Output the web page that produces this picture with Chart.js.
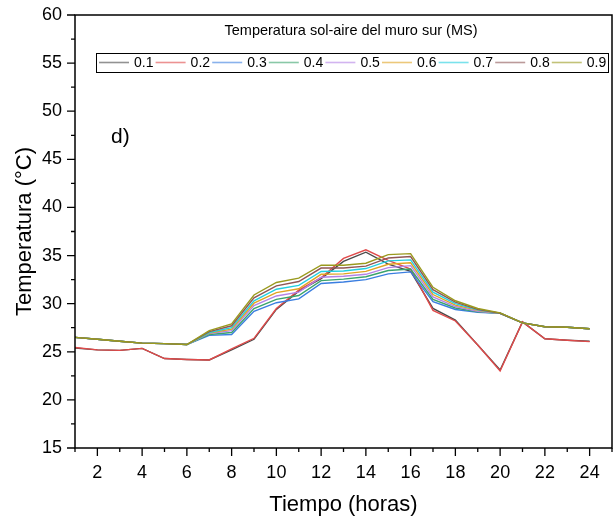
<!DOCTYPE html>
<html>
<head>
<meta charset="utf-8">
<script src="https://cdn.jsdelivr.net/npm/chart.js@4.4.1/dist/chart.umd.min.js"></script>
<style>
  html, body { margin: 0; padding: 0; background: #fff; }
  #wrap { width: 613px; height: 519px; }
</style>
</head>
<body>
<div id="wrap"><canvas id="myChart" width="613" height="519"></canvas></div>
<script>
// hours of the day
var hours = [1,2,3,4,5,6,7,8,9,10,11,12,13,14,15,16,17,18,19,20,21,22,23,24];
var seriesNames = ['0.1','0.2','0.3','0.4','0.5','0.6','0.7','0.8','0.9'];
var seriesColors = ['#4a4a4a','#e04a4a','#3a7ee0','#3aa46c','#b482e6','#e0a422','#22cfe0','#8e5656','#9a9a1e'];

// temperatura sol-aire (°C)
var s01 = [25.4,25.2,25.15,25.35,24.3,24.2,24.15,25.2,26.3,29.4,31.3,32.6,34.4,35.35,34.1,33.35,29.5,28.3,25.7,23.1,28.1,26.35,26.2,26.1];
var s02 = [25.45,25.2,25.15,25.35,24.3,24.2,24.15,25.3,26.4,29.5,31.4,32.7,34.7,35.6,34.5,33.6,29.3,28.2,25.7,23.0,28.1,26.35,26.2,26.05];
var s03 = [26.5,26.3,26.1,25.9,25.85,25.75,26.7,26.8,29.2,30.1,30.5,32.1,32.25,32.5,33.1,33.3,30.2,29.4,29.1,29.0,28.0,27.6,27.55,27.4];
var s04 = [26.5,26.3,26.1,25.9,25.85,25.75,26.8,27.0,29.5,30.45,30.85,32.4,32.55,32.8,33.45,33.6,30.45,29.55,29.15,29.0,28.0,27.6,27.55,27.4];
var s05 = [26.5,26.3,26.1,25.9,25.85,25.75,26.9,27.2,29.8,30.8,31.2,32.75,32.85,33.05,33.75,33.95,30.7,29.7,29.2,29.0,28.0,27.6,27.55,27.4];
var s06 = [26.5,26.3,26.1,25.9,25.85,25.75,26.95,27.35,30.05,31.15,31.55,33.05,33.1,33.35,34.1,34.25,30.95,29.85,29.3,29.0,28.0,27.6,27.55,27.4];
var s07 = [26.5,26.3,26.1,25.9,25.85,25.75,27.0,27.5,30.3,31.5,31.9,33.35,33.4,33.65,34.45,34.55,31.2,30.0,29.35,29.0,28.0,27.6,27.55,27.4];
var s08 = [26.5,26.3,26.1,25.9,25.85,25.75,27.1,27.7,30.6,31.85,32.3,33.7,33.7,33.9,34.75,34.9,31.45,30.15,29.4,29.0,28.0,27.6,27.55,27.4];
var s09 = [26.5,26.3,26.1,25.9,25.85,25.75,27.2,27.9,30.9,32.2,32.65,34.0,34.0,34.2,35.1,35.2,31.7,30.3,29.5,29.05,28.0,27.6,27.55,27.4];
var allSeries = [s01,s02,s03,s04,s05,s06,s07,s08,s09];

var FONT = '"Liberation Sans", Arial, sans-serif';

var datasets = allSeries.map(function(vals, i) {
    return {
        label: seriesNames[i],
        data: vals.map(function(v, k) { return {x: hours[k], y: v}; }),
        borderColor: seriesColors[i],
        backgroundColor: seriesColors[i],
        borderWidth: 1.4,
        pointRadius: 0,
        tension: 0,
        order: 9 - i
    };
});

// frame, tick marks, inner legend and panel label
var decorations = {
    id: 'decorations',
    afterDraw: function(chart) {
        var c = chart.ctx, a = chart.chartArea;
        var xs = chart.scales.x, ys = chart.scales.y;
        c.save();
        c.strokeStyle = '#000';
        c.lineWidth = 1.5;
        c.strokeRect(a.left, a.top, a.right - a.left, a.bottom - a.top);

        c.lineWidth = 1.3;
        c.beginPath();
        xs.ticks.forEach(function(t) {
            var px = xs.getPixelForValue(t.value);
            var len = t.value % 2 === 0 ? 8 : 4;
            c.moveTo(px, a.bottom); c.lineTo(px, a.bottom + len);
        });
        ys.ticks.forEach(function(t) {
            var py = ys.getPixelForValue(t.value);
            var len = t.value % 5 === 0 ? 8 : 4;
            c.moveTo(a.left, py); c.lineTo(a.left - len, py);
        });
        c.stroke();

        // legend title
        c.fillStyle = '#000';
        c.font = '14.5px ' + FONT;
        c.textAlign = 'center';
        c.textBaseline = 'middle';
        c.fillText('Temperatura sol-aire del muro sur (MS)', 351, 31);

        // legend box
        c.lineWidth = 1;
        c.strokeStyle = '#000';
        c.strokeRect(96.5, 53.5, 512, 19);
        c.textAlign = 'left';
        c.font = '14px ' + FONT;
        seriesNames.forEach(function(n, i) {
            var x0 = 99 + 56.6 * i;
            c.strokeStyle = seriesColors[i];
            c.globalAlpha = 0.6;
            c.lineWidth = 1.6;
            c.beginPath();
            c.moveTo(x0, 62.5); c.lineTo(x0 + 30, 62.5);
            c.stroke();
            c.globalAlpha = 1;
            c.fillStyle = '#000';
            c.fillText(n, x0 + 35, 63);
        });

        c.font = '21px ' + FONT;
        c.fillText('d)', 111, 137);
        c.restore();
    }
};

var ctx = document.getElementById('myChart').getContext('2d');
var chart = new Chart(ctx, {
    type: 'line',
    data: { datasets: datasets },
    options: {
        responsive: false,
        animation: false,
        layout: { padding: { top: 15, right: 1, left: 0, bottom: 0 } },
        plugins: {
            legend: { display: false },
            tooltip: { enabled: false }
        },
        scales: {
            x: {
                type: 'linear',
                min: 1,
                max: 25,
                afterFit: function(s) {
                    s.height = 71;
                    s.paddingLeft = 0; s.paddingRight = 0;
                },
                grid: { display: false, drawTicks: false },
                border: { display: false },
                ticks: {
                    stepSize: 1,
                    autoSkip: false,
                    maxRotation: 0,
                    padding: 14,
                    color: '#000',
                    font: { family: FONT, size: 18 },
                    callback: function(v) { return (v % 2 === 0 && v <= 24) ? String(v) : ''; }
                },
                title: {
                    display: true,
                    text: 'Tiempo (horas)',
                    color: '#000',
                    font: { family: FONT, size: 22 },
                    padding: { top: 0, bottom: 1 }
                }
            },
            y: {
                min: 15,
                max: 60,
                afterFit: function(s) {
                    s.width = 75;
                    s.paddingTop = 0; s.paddingBottom = 0;
                },
                grid: { display: false, drawTicks: false },
                border: { display: false },
                ticks: {
                    stepSize: 2.5,
                    autoSkip: false,
                    padding: 13,
                    color: '#000',
                    font: { family: FONT, size: 18 },
                    callback: function(v) { return v % 5 === 0 ? String(v) : ''; }
                },
                title: {
                    display: true,
                    text: 'Temperatura (°C)',
                    color: '#000',
                    font: { family: FONT, size: 22 },
                    padding: { top: 12, bottom: 0 }
                }
            }
        }
    },
    plugins: [decorations]
});
</script>
</body>
</html>
